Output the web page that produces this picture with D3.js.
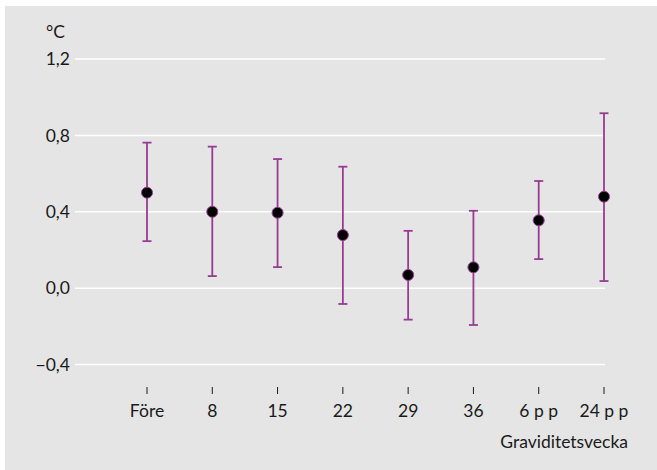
<!DOCTYPE html>
<html>
<head>
<meta charset="utf-8">
<script src="https://cdn.jsdelivr.net/npm/d3@7"></script>
<style>
  html, body { margin: 0; padding: 0; background: #fff; }
  text { font-family: Lato, "Open Sans", sans-serif; font-size: 17.5px; fill: #1a1a1a; }
</style>
</head>
<body>
<div id="chart"></div>
<script>
const categories = ['Före', '8', '15', '22', '29', '36', '6 p p', '24 p p'];
const means = [0.50, 0.40, 0.395, 0.278, 0.069, 0.109, 0.355, 0.479];
const lower = [0.246, 0.063, 0.11, -0.083, -0.165, -0.193, 0.152, 0.037];
const upper = [0.762, 0.741, 0.676, 0.636, 0.30, 0.405, 0.561, 0.916];
const yTicks = [-0.4, 0, 0.4, 0.8, 1.2];

const W = 657, H = 470;
const purple = '#963c93';

const svg = d3.select('#chart').append('svg')
  .attr('width', W)
  .attr('height', H);

svg.append('rect')
  .attr('x', 5).attr('y', 6)
  .attr('width', W - 5).attr('height', H - 6)
  .attr('fill', '#e5e5e5');

const x = d3.scalePoint()
  .domain(categories)
  .range([147, 604]);

const y = d3.scaleLinear()
  .domain([-0.4, 1.2])
  .range([364.5, 59]);

const fmt = v => d3.format('.1f')(v).replace('.', ',').replace('-', '\u2013');

// gridlines + y labels
const yAxis = svg.append('g');
yAxis.selectAll('line')
  .data(yTicks)
  .join('line')
  .attr('x1', 75).attr('x2', 605)
  .attr('y1', d => y(d)).attr('y2', d => y(d))
  .attr('stroke', '#fff')
  .attr('stroke-width', 1.5);
yAxis.selectAll('text')
  .data(yTicks)
  .join('text')
  .attr('x', 70)
  .attr('y', d => y(d))
  .attr('dy', '0.35em')
  .attr('text-anchor', 'end')
  .text(fmt);

svg.append('text')
  .attr('x', 46).attr('y', 38)
  .text('°C');

// x axis ticks
const xAxis = svg.append('g');
xAxis.selectAll('line')
  .data(categories)
  .join('line')
  .attr('x1', d => x(d)).attr('x2', d => x(d))
  .attr('y1', 387).attr('y2', 394)
  .attr('stroke', '#1a1a1a')
  .attr('stroke-width', 1);
xAxis.selectAll('text')
  .data(categories)
  .join('text')
  .attr('x', d => x(d))
  .attr('y', 417)
  .attr('text-anchor', 'middle')
  .text(d => d);

svg.append('text')
  .attr('x', 628).attr('y', 448)
  .attr('text-anchor', 'end')
  .text('Graviditetsvecka');

// error bars
const bars = svg.append('g')
  .selectAll('g')
  .data(categories.map((c, i) => ({ c, m: means[i], lo: lower[i], hi: upper[i] })))
  .join('g');

bars.append('line')
  .attr('x1', d => x(d.c)).attr('x2', d => x(d.c))
  .attr('y1', d => y(d.lo)).attr('y2', d => y(d.hi))
  .attr('stroke', purple).attr('stroke-width', 1.8);

for (const key of ['lo', 'hi']) {
  bars.append('line')
    .attr('x1', d => x(d.c) - 4.5).attr('x2', d => x(d.c) + 4.5)
    .attr('y1', d => y(d[key])).attr('y2', d => y(d[key]))
    .attr('stroke', purple).attr('stroke-width', 1.8);
}

bars.append('circle')
  .attr('cx', d => x(d.c))
  .attr('cy', d => y(d.m))
  .attr('r', 5.5)
  .attr('fill', '#000')
  .attr('stroke', purple)
  .attr('stroke-width', 1);
</script>
</body>
</html>
